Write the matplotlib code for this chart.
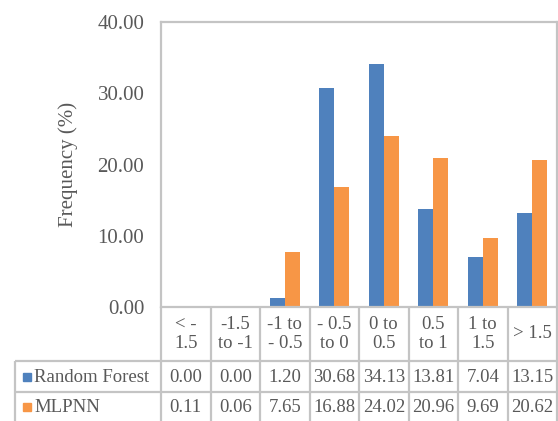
import matplotlib
matplotlib.use("Agg")
import matplotlib.pyplot as plt
import numpy as np

categories = ["< -\n1.5", "-1.5\nto -1", "-1 to\n- 0.5", "- 0.5\nto 0",
              "0 to\n0.5", "0.5\nto 1", "1 to\n1.5", "> 1.5"]
series_names = ["Random Forest", "MLPNN"]
random_forest = [0.00, 0.00, 1.20, 30.68, 34.13, 13.81, 7.04, 13.15]
mlpnn = [0.11, 0.06, 7.65, 16.88, 24.02, 20.96, 9.69, 20.62]
y_ticks = [0, 10, 20, 30, 40]

BLUE = "#4F81BD"
ORANGE = "#F79646"
GRID = "#C4C4C4"
TEXT = "#595959"
FONT = "Liberation Serif"

W, H = 558, 421
fig = plt.figure(figsize=(W / 100, H / 100), dpi=100)

# plot area in pixel coordinates
px_left, px_right, px_top, px_bottom = 161, 557, 22, 307
ax = fig.add_axes([px_left / W, 1 - px_bottom / H,
                   (px_right - px_left) / W, (px_bottom - px_top) / H])

x = np.arange(len(categories))
bw = 0.3
ax.bar(x - bw / 2, random_forest, bw, color=BLUE, label=series_names[0])
ax.bar(x + bw / 2, mlpnn, bw, color=ORANGE, label=series_names[1])
ax.set_xlim(-0.5, len(categories) - 0.5)
ax.set_ylim(0, 40)
ax.set_yticks(y_ticks)
ax.set_yticklabels([f"{v:.2f}" for v in y_ticks], fontfamily=FONT,
                   fontsize=15, color=TEXT)
ax.set_xticks([])
ax.tick_params(axis="y", length=0, pad=12)
for s in ax.spines.values():
    s.set_color(GRID)
    s.set_linewidth(1.6)
ax.set_ylabel("Frequency (%)", fontfamily=FONT, fontsize=15, color=TEXT,
              labelpad=14)

# data table below the plot, drawn in pixel coordinates
ov = fig.add_axes([0, 0, 1, 1], facecolor="none")
ov.set_xlim(0, W)
ov.set_ylim(H, 0)
ov.axis("off")

col_w = (px_right - px_left) / len(categories)
col_edges = [px_left + i * col_w for i in range(len(categories) + 1)]
row_header = (px_bottom, 361)
row_rf = (361, 392)
row_ml = (392, 423)
label_left = 15

lk = dict(color=GRID, lw=1.6, solid_capstyle="butt")
# header row lines
for xe in col_edges:
    ov.plot([xe, xe], [row_header[0], row_header[1]], **lk)
# horizontal lines
ov.plot([label_left, col_edges[-1]], [row_rf[0], row_rf[0]], **lk)
ov.plot([label_left, col_edges[-1]], [row_ml[0], row_ml[0]], **lk)
# vertical lines for data rows
for xe in [label_left] + col_edges:
    ov.plot([xe, xe], [row_rf[0], H], **lk)

tk = dict(fontfamily=FONT, fontsize=13.5, color=TEXT)
y_rf = 377
y_ml = 407
for i, cat in enumerate(categories):
    cx = (col_edges[i] + col_edges[i + 1]) / 2
    ov.text(cx, 334, cat, ha="center", va="center", linespacing=1.2, **tk)
    ov.text(cx, y_rf, f"{random_forest[i]:.2f}", ha="center", va="center", **tk)
    ov.text(cx, y_ml, f"{mlpnn[i]:.2f}", ha="center", va="center", **tk)

for name, color, yc in [(series_names[0], BLUE, y_rf),
                        (series_names[1], ORANGE, y_ml)]:
    ov.add_patch(plt.Rectangle((23, yc - 4), 8, 8, color=color))
    ov.text(34, yc, name, ha="left", va="center", **tk)

fig.savefig("out.png", dpi=100)
